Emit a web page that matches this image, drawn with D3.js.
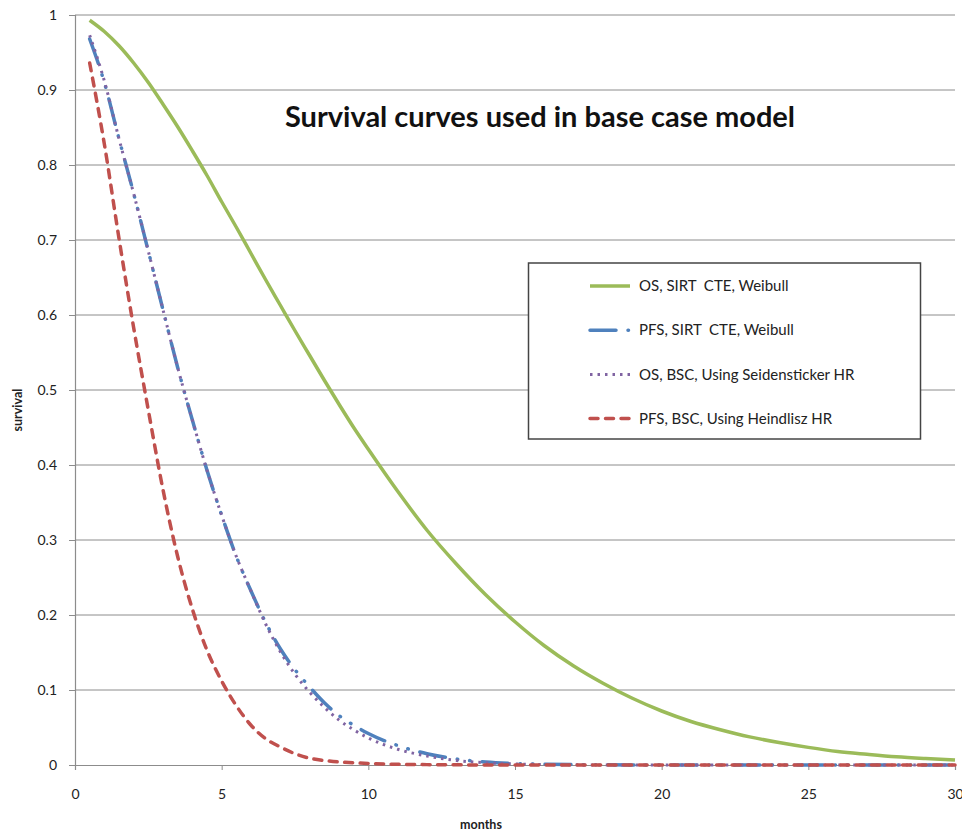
<!DOCTYPE html>
<html>
<head>
<meta charset="utf-8">
<script src="https://cdn.jsdelivr.net/npm/d3@7"></script>
<style>
	body { margin: 0; background: #fff; }
	text { font-family: Lato, "Open Sans", sans-serif; }
</style>
</head>
<body>
<svg id="chart" width="962" height="834"></svg>
<script>
const months = [0.5,1,1.5,2,2.5,3,3.5,4,4.5,5,5.5,6,6.5,7,7.5,8,8.5,9,9.5,10,11,12,13,14,15,16,17,18,19,20,21,22,23,24,25,26,27,28,29,30];

const osSirt = [0.993,0.978,0.959,0.936,0.910,0.881,0.851,0.819,0.786,0.751,0.717,0.682,0.647,0.613,0.579,0.546,0.513,0.481,0.450,0.421,0.365,0.313,0.268,0.227,0.191,0.159,0.132,0.109,0.089,0.072,0.058,0.047,0.0375,0.030,0.0235,0.018,0.0143,0.011,0.0086,0.0066];
const pfsSirt = [0.968,0.910,0.835,0.762,0.685,0.607,0.530,0.460,0.393,0.333,0.278,0.232,0.190,0.155,0.127,0.104,0.083,0.066,0.053,0.042,0.026,0.015,0.008,0.004,0.002,0.001,0.0005,0.0003,0.0001,0,0,0,0,0,0,0,0,0,0,0];
const osBsc = [0.973,0.912,0.835,0.762,0.685,0.607,0.530,0.460,0.393,0.333,0.278,0.232,0.188,0.151,0.121,0.097,0.077,0.060,0.047,0.036,0.021,0.012,0.006,0.003,0.0014,0.0006,0.0002,0.0001,0,0,0,0,0,0,0,0,0,0,0,0];
const pfsBsc = [0.936,0.828,0.702,0.583,0.473,0.367,0.278,0.208,0.153,0.112,0.079,0.053,0.035,0.024,0.015,0.009,0.006,0.004,0.003,0.002,0.001,0.0005,0.0002,0.0001,0,0,0,0,0,0,0,0,0,0,0,0,0,0,0,0];

const seriesNames = ["OS, SIRT  CTE, Weibull","PFS, SIRT  CTE, Weibull","OS, BSC, Using Seidensticker HR","PFS, BSC, Using Heindlisz HR"];
const xTicks = [0,5,10,15,20,25,30];
const yTicks = [0,0.1,0.2,0.3,0.4,0.5,0.6,0.7,0.8,0.9,1];

const config = {
	"domElementId": "#chart",
	"left": 75, "right": 955, "top": 15, "bottom": 765,
	"styles": [
		{"stroke": "#9BBB59", "width": 3.5, "dash": null, "cap": "butt"},
		{"stroke": "#4F81BD", "width": 3.5, "dash": "26,12,0.5,12,0.5,12", "cap": "round"},
		{"stroke": "#8064A2", "width": 3, "dash": "2.5,5", "cap": "butt"},
		{"stroke": "#C0504D", "width": 3.5, "dash": "8,7.5", "cap": "round"}
	]
};

class SurvivalChart {
	constructor(config) {
		this.config = config;
		this.series = [osSirt, pfsSirt, osBsc, pfsBsc].map((vals, i) => ({
			"key": seriesNames[i],
			"values": months.map((m, j) => ({"month": m, "survival": vals[j]}))
		}));
	}

	create_axes() {
		const svg = d3.select(this.config["domElementId"]);
		const c = this.config;

		this.xScale = d3.scaleLinear().domain([0,30]).range([c.left, c.right]);
		this.yScale = d3.scaleLinear().domain([0,1]).range([c.bottom, c.top]);

		// gridlines
		svg.append("g")
		   .selectAll("line")
		   .data(yTicks.filter(d => d > 0))
		   .enter()
		   .append("line")
		   .attr("x1", c.left)
		   .attr("x2", c.right)
		   .attr("y1", d => this.yScale(d))
		   .attr("y2", d => this.yScale(d))
		   .attr("stroke", "#8c8c8c")
		   .attr("stroke-width", 1);

		const yAxis = d3.axisLeft(this.yScale)
		                .tickValues(yTicks)
		                .tickSize(6)
		                .tickPadding(12)
		                .tickFormat(d3.format("~g"));
		const gy = svg.append("g")
		              .attr("transform", `translate(${c.left},0)`)
		              .call(yAxis);

		const xAxis = d3.axisBottom(this.xScale)
		                .tickValues(xTicks)
		                .tickSize(5)
		                .tickPadding(19);
		const gx = svg.append("g")
		              .attr("transform", `translate(0,${c.bottom})`)
		              .call(xAxis);

		[gx, gy].forEach(g => {
			g.select(".domain").attr("stroke", "#8c8c8c").attr("stroke-width", 1.2);
			g.selectAll(".tick line").attr("stroke", "#8c8c8c");
			g.selectAll(".tick text")
			 .attr("fill", "#222")
			 .style("font-size", "14px")
			 .style("font-family", "Lato, sans-serif");
		});

		return this;
	}

	add_labels() {
		const svg = d3.select(this.config["domElementId"]);

		svg.append("text")
		   .attr("x", 540)
		   .attr("y", 127)
		   .attr("text-anchor", "middle")
		   .style("font-size", "29px")
		   .style("font-weight", "bold")
		   .attr("fill", "#111")
		   .text("Survival curves used in base case model");

		svg.append("text")
		   .attr("x", 481)
		   .attr("y", 829)
		   .attr("text-anchor", "middle")
		   .style("font-size", "12.5px")
		   .style("font-weight", "bold")
		   .attr("fill", "#222")
		   .text("months");

		svg.append("text")
		   .attr("transform", "translate(22,410) rotate(-90)")
		   .attr("text-anchor", "middle")
		   .style("font-size", "12.5px")
		   .style("font-weight", "bold")
		   .attr("fill", "#222")
		   .text("survival");

		return this;
	}

	add_lines() {
		const svg = d3.select(this.config["domElementId"]);
		const styles = this.config["styles"];
		const line = d3.line()
		               .curve(d3.curveMonotoneX)
		               .x(d => this.xScale(d.month))
		               .y(d => this.yScale(d.survival));

		svg.append("g")
		   .selectAll("path")
		   .data(this.series)
		   .enter()
		   .append("path")
		   .attr("fill", "none")
		   .attr("stroke", (d, i) => styles[i].stroke)
		   .attr("stroke-width", (d, i) => styles[i].width)
		   .attr("stroke-dasharray", (d, i) => styles[i].dash)
		   .attr("stroke-linecap", (d, i) => styles[i].cap)
		   .attr("d", d => line(d.values));

		return this;
	}

	show_legend() {
		const svg = d3.select(this.config["domElementId"]);
		const styles = this.config["styles"];
		const legend = svg.append("g").attr("class", "legend");

		legend.append("rect")
		      .attr("x", 528.5)
		      .attr("y", 263)
		      .attr("width", 392)
		      .attr("height", 176)
		      .attr("fill", "#fff")
		      .attr("stroke", "#444")
		      .attr("stroke-width", 1.5);

		this.series.forEach((s, i) => {
			const y = 286 + i * 44.2;
			legend.append("line")
			      .attr("x1", 590)
			      .attr("x2", 630)
			      .attr("y1", y)
			      .attr("y2", y)
			      .attr("stroke", styles[i].stroke)
			      .attr("stroke-width", styles[i].width)
			      .attr("stroke-dasharray", styles[i].dash)
			      .attr("stroke-linecap", styles[i].cap);

			legend.append("text")
			      .attr("x", 639)
			      .attr("y", y)
			      .attr("dy", "0.35em")
			      .style("font-size", "15px")
			      .style("white-space", "pre")
			      .attr("fill", "#222")
			      .text(s.key);
		});

		return this;
	}

	generate() {
		this.create_axes()
		    .add_labels()
		    .add_lines()
		    .show_legend();
	}
}

new SurvivalChart(config).generate();
</script>
</body>
</html>
